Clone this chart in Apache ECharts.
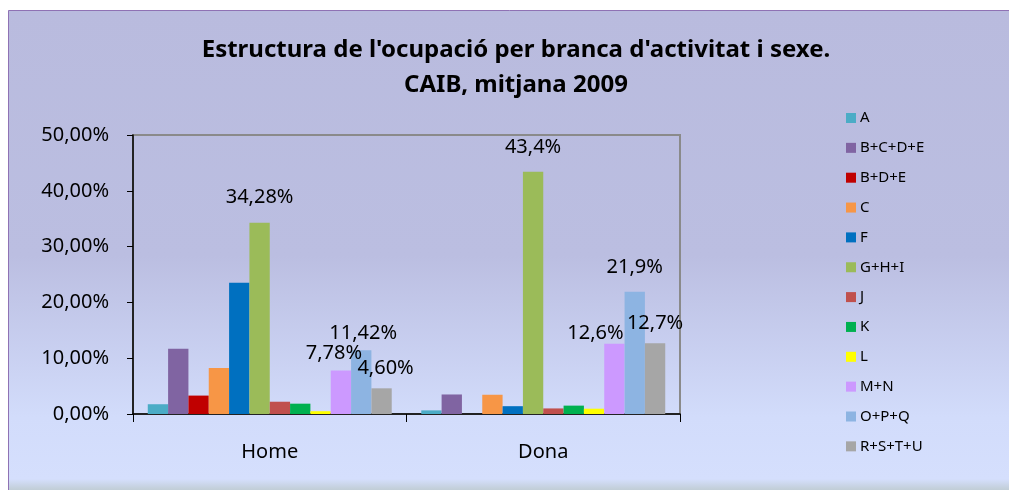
<!DOCTYPE html>
<html>
<head>
<meta charset="utf-8">
<script src="https://cdn.jsdelivr.net/npm/echarts@6/dist/echarts.min.js"></script>
<style>
  html, body { margin: 0; padding: 0; background: #fff; }
  #chart { width: 1009px; height: 490px; }
</style>
</head>
<body>
<div id="chart"></div>
<script>
// categories (x axis) and series (branques d'activitat)
const categories = ["Home", "Dona"];
const seriesNames = ["A", "B+C+D+E", "B+D+E", "C", "F", "G+H+I", "J", "K", "L", "M+N", "O+P+Q", "R+S+T+U"];
const seriesColors = ["#4BACC6", "#8064A2", "#C00000", "#F79646", "#0070C0", "#9BBB59",
  "#C0504D", "#00B050", "#FFFF00", "#CC99FF", "#8DB4E2", "#A6A6A6"];

// values in %, [Home, Dona] per series
const valuesA = [1.75, 0.65];
const valuesBCDE = [11.7, 3.5];
const valuesBDE = [3.3, 0];
const valuesC = [8.25, 3.45];
const valuesF = [23.5, 1.4];
const valuesGHI = [34.28, 43.4];
const valuesJ = [2.2, 1.0];
const valuesK = [1.85, 1.5];
const valuesL = [0.5, 0.95];
const valuesMN = [7.78, 12.6];
const valuesOPQ = [11.42, 21.9];
const valuesRSTU = [4.60, 12.7];

const allValues = [valuesA, valuesBCDE, valuesBDE, valuesC, valuesF, valuesGHI,
  valuesJ, valuesK, valuesL, valuesMN, valuesOPQ, valuesRSTU];

// only these series carry a data label; decimals differ per category
const labelledSeries = ["G+H+I", "M+N", "O+P+Q", "R+S+T+U"];
const labelDecimals = [2, 1];

const yTicks = [0, 10, 20, 30, 40, 50];

// manual label nudges (like the hand-moved labels in the original)
const labelOffsets = {
  "G+H+I": [[0, 0], [0, 0]],
  "M+N": [[-7, 8], [-19, 15]],
  "O+P+Q": [[2, 8], [0, 0]],
  "R+S+T+U": [[4, 5], [0, 5]],
};

const fontFamily = "Noto Sans";

const chart = echarts.init(document.getElementById("chart"));

const series = seriesNames.map((name, i) => {
  const hasLabel = labelledSeries.includes(name);
  return {
    name: name,
    type: "bar",
    barGap: "0%",
    barCategoryGap: "10.8%",
    itemStyle: { color: seriesColors[i] },
    data: allValues[i].map((v, c) => {
      const item = { value: v };
      if (hasLabel) {
        item.label = {
          show: true,
          position: "top",
          distance: 15,
          offset: labelOffsets[name][c],
          fontFamily: fontFamily,
          fontSize: 20,
          color: "#000",
          formatter: v.toFixed(labelDecimals[c]).replace(".", ",") + "%",
        };
      }
      return item;
    }),
  };
});

const option = {
  backgroundColor: "#fff",
  animation: false,
  textStyle: { fontFamily: fontFamily },
  graphic: [
    {
      type: "rect",
      z: -10,
      shape: { x: 8.5, y: 10.5, width: 1010, height: 490 },
      style: {
        stroke: "#8F72B4",
        lineWidth: 1,
        fill: {
          type: "linear", x: 0, y: 0, x2: 0, y2: 1,
          colorStops: [
            { offset: 0, color: "#B9BBDE" },
            { offset: 0.5, color: "#BBBEE1" },
            { offset: 0.83, color: "#D2DCFB" },
            { offset: 0.955, color: "#D5DFFD" },
            { offset: 0.975, color: "#C3CFDA" },
            { offset: 1, color: "#AFC0C0" },
          ],
        },
      },
    },
  ],
  title: {
    text: "Estructura de l'ocupació per branca d'activitat i sexe.\nCAIB, mitjana 2009",
    left: 516,
    top: 33,
    padding: 0,
    textAlign: "center",
    textStyle: {
      fontFamily: fontFamily,
      fontWeight: "bold",
      fontSize: 24,
      lineHeight: 35,
      color: "#000",
    },
  },
  legend: {
    orient: "vertical",
    left: 846,
    top: 110,
    padding: 0,
    icon: "rect",
    itemWidth: 10,
    itemHeight: 10,
    itemGap: 13.85,
    data: seriesNames,
    textStyle: {
      fontFamily: fontFamily,
      fontSize: 15,
      lineHeight: 16,
      color: "#000",
      padding: [0, 0, 0, -1],
    },
  },
  grid: {
    left: 133,
    right: 329,
    top: 135,
    bottom: 76,
    show: true,
    borderColor: "#8A8A8A",
    borderWidth: 2,
    backgroundColor: "transparent",
  },
  xAxis: {
    type: "category",
    data: categories,
    axisLine: { lineStyle: { color: "#000", width: 1.5 } },
    axisTick: { show: true, length: 8, lineStyle: { color: "#000" } },
    axisLabel: { fontFamily: fontFamily, fontSize: 20, color: "#000", margin: 28 },
    splitLine: { show: false },
  },
  yAxis: {
    type: "value",
    min: yTicks[0],
    max: yTicks[yTicks.length - 1],
    interval: yTicks[1] - yTicks[0],
    axisLine: { show: true, lineStyle: { color: "#000", width: 1.5 } },
    axisTick: { show: true, length: 6, lineStyle: { color: "#000" } },
    axisLabel: {
      fontFamily: fontFamily,
      fontSize: 20,
      color: "#000",
      margin: 24,
      formatter: (v) => v.toFixed(2).replace(".", ",") + "%",
    },
    splitLine: { show: false },
  },
  series: series,
};

chart.setOption(option);
</script>
</body>
</html>
